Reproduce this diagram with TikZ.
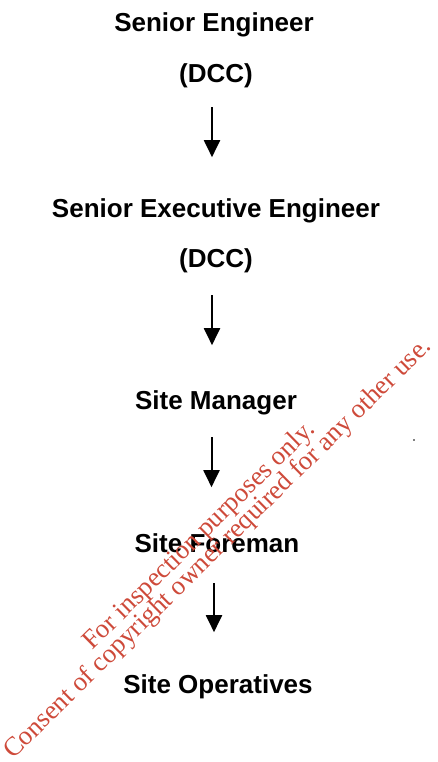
\documentclass[tikz,border=0pt]{standalone}
\usepackage{fontspec}
\setmainfont{Liberation Sans}
\newfontfamily\wmfont{Liberation Serif}
\usepackage{xcolor}
\usetikzlibrary{arrows.meta}
\definecolor{wmred}{RGB}{206,74,58}

\begin{document}
\begin{tikzpicture}[x=1pt,y=1pt]
  \tikzstyle{post}=[anchor=base,inner sep=0pt,text depth=5.5pt,font=\fontsize{26}{30}\selectfont\bfseries]
  \tikzstyle{down arrow}=[line width=2pt,-{Triangle[width=16pt,length=17pt]}]
  \tikzstyle{stamp}=[anchor=base west,inner sep=0pt,rotate=44.5,text=wmred,font=\wmfont\fontsize{26.7}{30}\selectfont]

  \useasboundingbox (0,0) rectangle (437,762);

  \node[post] (se)   at (214,730) {Senior Engineer};
  \node[post] (dcc1) at (216,679) {(DCC)};
  \node[post] (see)  at (216,544) {Senior Executive Engineer};
  \node[post] (dcc2) at (216,494) {(DCC)};
  \node[post] (sm)   at (216,352) {Site Manager};
  \node[post] (sf)   at (217,209) {Site Foreman};
  \node[post] (so)   at (218,68)  {Site Operatives};

  \draw[down arrow] ([xshift=-4pt]dcc1.south) ++(0,-18.5) -- ++(0,-50);
  \draw[down arrow] ([xshift=-4pt]dcc2.south) ++(0,-21.5) -- ++(0,-50);
  \draw[down arrow] ([xshift=-4.5pt]sm.south) ++(0,-21.5) -- ++(0,-50);
  \draw[down arrow] ([xshift=-3pt]sf.south) ++(0,-24.5) -- ++(0,-49);

  % stamp across the lower half
  \node[stamp] (wm1) at (92,111) {For inspection purposes only.};
  \node[stamp] (wm2) at (13,2) {Consent of copyright owner required for any other use.};

  \fill (414,322) circle (0.8);
\end{tikzpicture}
\end{document}
